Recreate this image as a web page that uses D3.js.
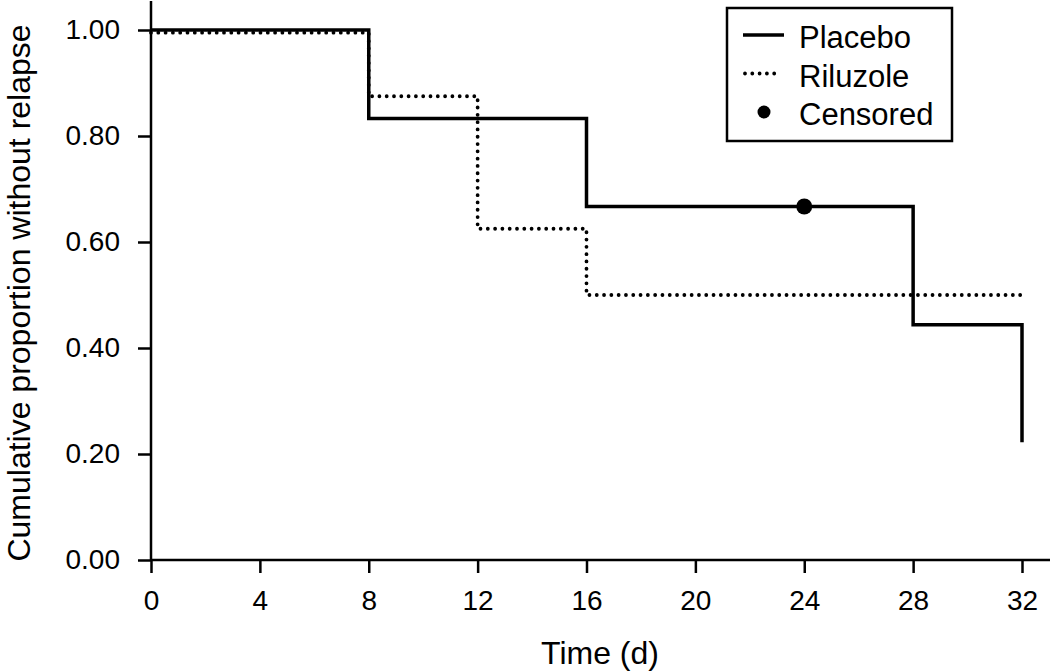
<!DOCTYPE html>
<meta charset="utf-8">
<style>
body { margin: 0; background: #fff; }
text { font-family: "Liberation Sans", Arial, Helvetica, sans-serif; fill: #000; }
.axis text { font-size: 28px; }
.axis line, .axis path { stroke: #000; stroke-width: 2.5px; }
.title { font-size: 32px; }
.legend text { font-size: 31px; }
</style>
<svg width="1050" height="671"></svg>
<script src="https://d3js.org/d3.v7.min.js"></script>
<script>

// Kaplan-Meier steps: [time, proportion]
var placebo = [[0, 1.00], [8, 1.00], [8, 0.833], [16, 0.833], [16, 0.667], [28, 0.667], [28, 0.444], [32, 0.444], [32, 0.222]];
var riluzole = [[0, 0.995], [8, 0.995], [8, 0.875], [12, 0.875], [12, 0.625], [16, 0.625], [16, 0.50], [32, 0.50]];
var censored = [[24, 0.667]];
var xTicks = [0, 4, 8, 12, 16, 20, 24, 28, 32];
var yTicks = [0, 0.2, 0.4, 0.6, 0.8, 1.0];
var legendItems = ["Placebo", "Riluzole", "Censored"];

var svg = d3.select("svg");

var x = d3.scaleLinear().domain([0, 32]).range([151, 1022]),
    y = d3.scaleLinear().domain([0, 1]).range([560, 30]);

// axes
var gx = svg.append("g").attr("class", "axis")
    .attr("transform", "translate(0,560)")
    .call(d3.axisBottom(x).tickValues(xTicks).tickSize(13).tickPadding(17).tickSizeOuter(0));
gx.select(".domain").remove();
gx.append("line").attr("x1", 151).attr("x2", 1050);

var gy = svg.append("g").attr("class", "axis")
    .attr("transform", "translate(151,0)")
    .call(d3.axisLeft(y).tickValues(yTicks).tickFormat(d3.format(".2f")).tickSize(13).tickPadding(18).tickSizeOuter(0));
gy.select(".domain").remove();
gy.append("line").attr("y1", 1).attr("y2", 560);

svg.append("text").attr("class", "title")
    .attr("x", 600).attr("y", 664)
    .attr("text-anchor", "middle")
    .text("Time (d)");

svg.append("text").attr("class", "title")
    .attr("transform", "translate(30,293) rotate(-90)")
    .attr("text-anchor", "middle")
    .style("font-size", "32px")
    .text("Cumulative proportion without relapse");

var line = d3.line().x(function(d) { return x(d[0]); }).y(function(d) { return y(d[1]); });

svg.append("path")
    .datum(riluzole)
    .attr("d", line)
    .attr("fill", "none")
    .attr("stroke", "#000")
    .attr("stroke-width", 3.8)
    .attr("stroke-linecap", "round")
    .attr("stroke-dasharray", "0,7.3");

svg.append("path")
    .datum(placebo)
    .attr("d", line)
    .attr("fill", "none")
    .attr("stroke", "#000")
    .attr("stroke-width", 3.5);

svg.selectAll(".cens")
    .data(censored)
  .enter().append("circle")
    .attr("class", "cens")
    .attr("cx", function(d) { return x(d[0]); })
    .attr("cy", function(d) { return y(d[1]); })
    .attr("r", 8)
    .attr("fill", "#000");

// legend
var legend = svg.append("g").attr("class", "legend");
legend.append("rect")
    .attr("x", 727).attr("y", 8).attr("width", 225).attr("height", 133)
    .attr("fill", "#fff").attr("stroke", "#000").attr("stroke-width", 2.5);

var item = legend.selectAll(".item")
    .data(legendItems)
  .enter().append("g")
    .attr("class", "item")
    .attr("transform", function(d, i) { return "translate(0," + (35 + i * 38.5) + ")"; });

item.append("text")
    .attr("x", 799).attr("y", 13)
    .text(function(d) { return d; });

item.filter(function(d, i) { return i === 0; }).append("line")
    .attr("x1", 743).attr("x2", 784)
    .attr("stroke", "#000").attr("stroke-width", 3.5);
item.filter(function(d, i) { return i === 1; }).append("line")
    .attr("x1", 745).attr("x2", 778)
    .attr("stroke", "#000").attr("stroke-width", 3.8)
    .attr("stroke-linecap", "round").attr("stroke-dasharray", "0,7.3");
item.filter(function(d, i) { return i === 2; }).append("circle")
    .attr("cx", 764).attr("r", 6.5).attr("fill", "#000");

</script>
